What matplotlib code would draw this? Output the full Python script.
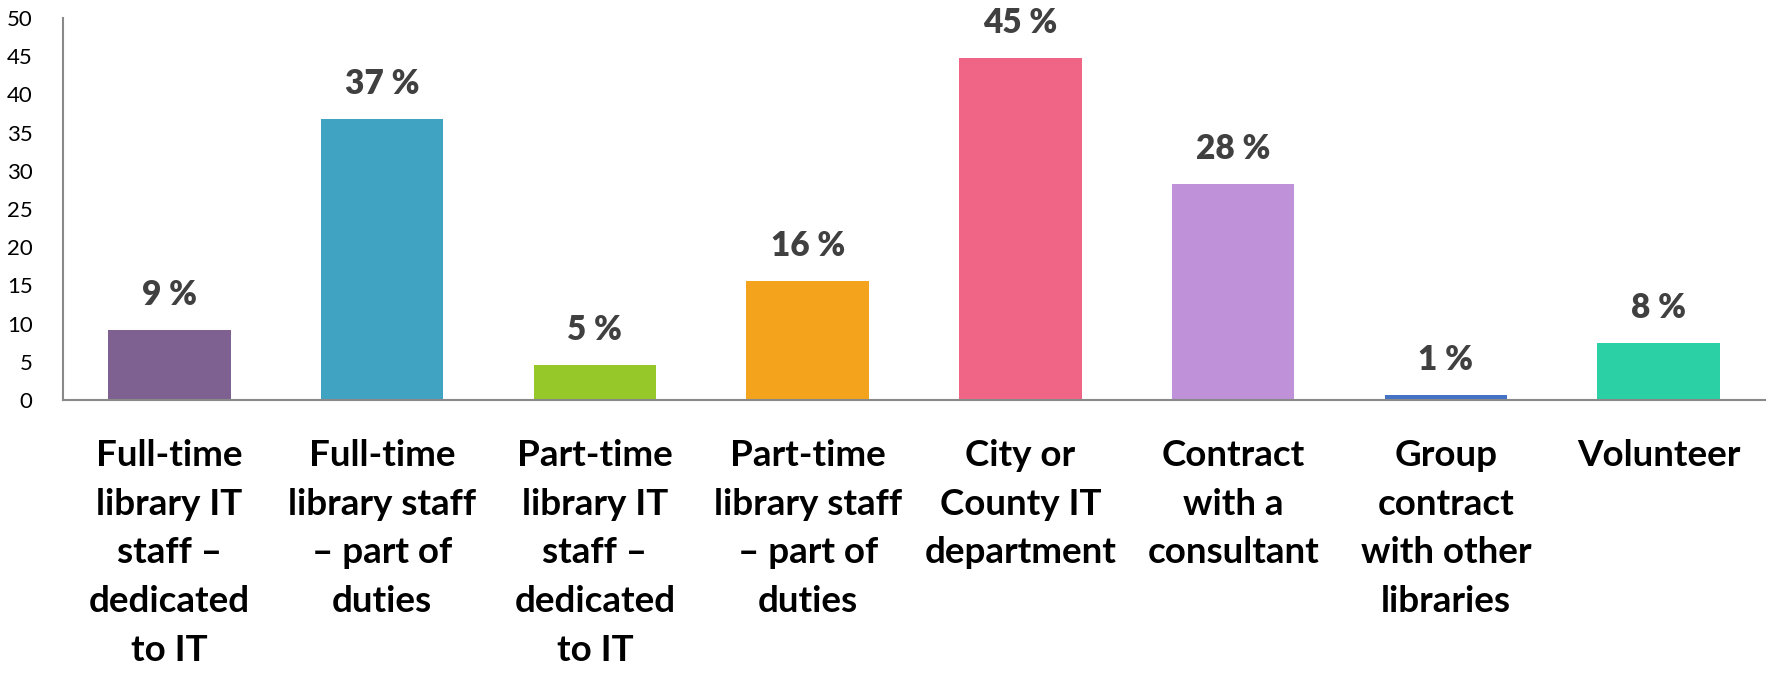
import matplotlib.pyplot as plt

categories = [
    "Full-time\nlibrary IT\nstaff –\ndedicated\nto IT",
    "Full-time\nlibrary staff\n– part of\nduties",
    "Part-time\nlibrary IT\nstaff –\ndedicated\nto IT",
    "Part-time\nlibrary staff\n– part of\nduties",
    "City or\nCounty IT\ndepartment",
    "Contract\nwith a\nconsultant",
    "Group\ncontract\nwith other\nlibraries",
    "Volunteer",
]
values = [9.2, 36.8, 4.6, 15.6, 44.7, 28.3, 0.6, 7.4]
value_labels = ["9 %", "37 %", "5 %", "16 %", "45 %", "28 %", "1 %", "8 %"]
colors = ["#7F6191", "#41A3C2", "#96C829", "#F4A41C",
          "#F06585", "#BF91D9", "#4472C4", "#2BD0A5"]
yticks = list(range(0, 51, 5))

fig = plt.figure(figsize=(17.71, 6.81), dpi=100)
ax = fig.add_axes([0.0356, 0.4126, 0.961, 0.561])

x = range(len(values))
ax.bar(x, values, width=0.575, color=colors)

for i, (v, lab) in enumerate(zip(values, value_labels)):
    ax.text(i, v + 2.5, lab, ha='center', va='bottom', fontsize=24,
            fontweight='heavy', color='#404040', family='Lato')

ax.set_xlim(-0.5, len(values) - 0.5)
ax.set_ylim(0, 50)
ax.set_yticks(yticks)
ax.set_yticklabels([str(t) for t in yticks], fontsize=16, family='Lato')
ax.set_xticks(list(x))
ax.set_xticklabels(categories, fontsize=26.5, fontweight='bold', family='Lato',
                   linespacing=1.58)
ax.tick_params(axis='both', length=0)
ax.tick_params(axis='y', pad=22)
ax.tick_params(axis='x', pad=28)

for s in ['top', 'right']:
    ax.spines[s].set_visible(False)
for s in ['left', 'bottom']:
    ax.spines[s].set_color('#898989')
    ax.spines[s].set_linewidth(1.5)

fig.savefig('out.png', dpi=100)
